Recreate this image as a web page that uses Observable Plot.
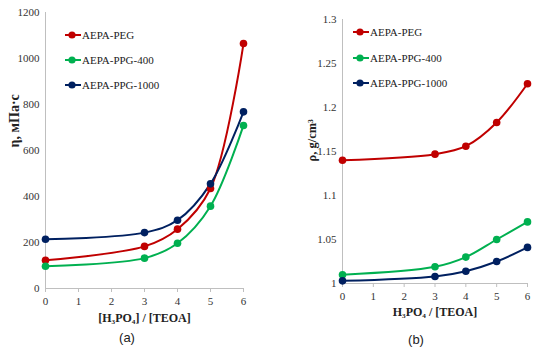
<!DOCTYPE html>
<html><head><meta charset="utf-8">
<script src="https://cdn.jsdelivr.net/npm/d3@7"></script>
<script src="https://cdn.jsdelivr.net/npm/@observablehq/plot@0.6"></script>
<style>
body{margin:0;background:#fff;}
#wrap{position:relative;width:550px;height:354px;overflow:hidden;font-family:'Liberation Serif',serif;}
#wrap svg, #wrap svg text{font-family:'Liberation Serif',serif !important;}
.panel{position:absolute;top:0;}
.cap{position:absolute;font-family:'Liberation Sans',sans-serif;font-size:13px;color:#222;transform:translateX(-50%);}
.leg{position:absolute;font-family:'Liberation Serif',serif;font-size:11px;color:#222;display:flex;align-items:center;white-space:nowrap;}
.leg svg{margin-right:1px;}
</style></head>
<body><div id="wrap"></div>
<script>
const ratio = [0, 3, 4, 5, 6];
const series = ["AEPA-PEG", "AEPA-PPG-400", "AEPA-PPG-1000"];
const colors = ["#C00000", "#00B050", "#002060"];
// (a) viscosity, mPa·s
const viscPEG = [123, 183, 258, 435, 1065];
const viscPPG400 = [97, 132, 197, 358, 709];
const viscPPG1000 = [214, 243, 297, 455, 768];
// (b) density, g/cm3
const densPEG = [1.140, 1.147, 1.156, 1.183, 1.227];
const densPPG400 = [1.010, 1.019, 1.030, 1.050, 1.070];
const densPPG1000 = [1.003, 1.008, 1.014, 1.025, 1.041];
const xTicks = [0, 1, 2, 3, 4, 5, 6];
const viscTicks = [0, 200, 400, 600, 800, 1000, 1200];
const densTicks = [1, 1.05, 1.1, 1.15, 1.2, 1.25, 1.3];

const FONT = "Liberation Serif, serif";

function rows(arrs){
  const out = [];
  arrs.forEach((a, i) => a.forEach((v, j) => out.push({s: series[i], x: ratio[j], y: v})));
  return out;
}
const visc = rows([viscPEG, viscPPG400, viscPPG1000]);
const dens = rows([densPEG, densPPG400, densPPG1000]);

function panel(data, o){
  return Plot.plot({
    width: 275, height: 330,
    marginLeft: o.ml, marginRight: o.mr, marginTop: o.mt, marginBottom: o.mb,
    style: {fontFamily: FONT, fontSize: "11px", color: "#333", background: "transparent"},
    x: {domain: [0, 6]},
    y: {domain: o.ydom},
    color: {domain: series, range: colors},
    marks: [
      Plot.ruleX([0], {stroke: "#BFBFBF", strokeWidth: 1}),
      Plot.ruleY([o.ydom[0]], {stroke: "#BFBFBF", strokeWidth: 1}),
      Plot.axisX({ticks: xTicks, tickSize: 4, tickPadding: 5, tickFormat: d => String(d), stroke: "#BFBFBF", label: null, fill: "#333"}),
      Plot.axisY({ticks: o.yticks, tickSize: 0, tickPadding: 6, tickFormat: o.fmt, label: null, fill: "#333"}),
      Plot.line(data, {x: "x", y: "y", stroke: "s", z: "s", strokeWidth: 2, curve: "catmull-rom"}),
      Plot.dot(data, {x: "x", y: "y", fill: "s", r: 3.8}),
      Plot.text([o.xlabel], {frameAnchor: "bottom", dy: o.xdy, text: d => d, fontWeight: "bold", fontSize: 12, fill: "#222"}),
      Plot.text([o.ylabel], {frameAnchor: "left", dx: o.ydx, dy: o.ydy, text: d => d, rotate: -90, fontWeight: "bold", fontSize: o.yfs, fill: "#222"})
    ]
  });
}

const wrap = document.getElementById("wrap");
function place(el, left){ const d = document.createElement("div"); d.className = "panel"; d.style.left = left + "px"; d.appendChild(el); wrap.appendChild(d); }

place(panel(visc, {ml: 45, mr: 32, mt: 12, mb: 42, ydom: [0, 1200], yticks: viscTicks, fmt: d => String(d),
  xlabel: "[H₃PO₄] / [TEOA]", xdy: 33, ylabel: "η, мПа·с", ydx: -31, ydy: -3, yfs: 14}), 0);
place(panel(dens, {ml: 67, mr: 23, mt: 19, mb: 47, ydom: [1, 1.3], yticks: densTicks, fmt: d => String(+d.toFixed(2)),
  xlabel: "H₃PO₄ / [TEOA]", xdy: 32, ylabel: "ρ, g/cm³", ydx: -31, ydy: 10, yfs: 12.5}), 275);

function legend(x, ys){
  series.forEach((s, i) => {
    const d = document.createElement("div"); d.className = "leg";
    d.style.left = x + "px"; d.style.top = (ys[i] - 8) + "px"; d.style.height = "16px";
    d.innerHTML = `<svg width="16" height="10"><line x1="0" y1="5" x2="16" y2="5" stroke="${colors[i]}" stroke-width="2"/><circle cx="7" cy="5" r="3.6" fill="${colors[i]}"/></svg><span>${s}</span>`;
    wrap.appendChild(d);
  });
}
legend(65, [35, 60, 85]);
legend(353, [32, 58, 83]);

function cap(t, x, y){ const c = document.createElement("div"); c.className = "cap"; c.textContent = t; c.style.left = x + "px"; c.style.top = y + "px"; wrap.appendChild(c); }
cap("(a)", 127, 330);
cap("(b)", 416, 332);
</script></body></html>
